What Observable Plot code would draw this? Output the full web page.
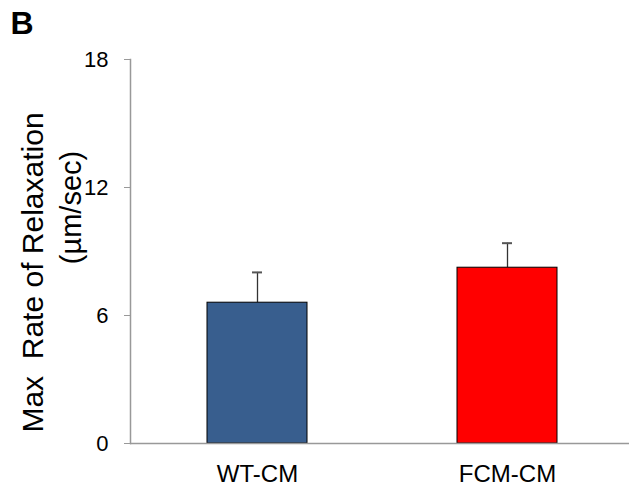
<!DOCTYPE html>
<html>
<head>
<meta charset="utf-8">
<script src="https://cdn.jsdelivr.net/npm/d3@7"></script>
<script src="https://cdn.jsdelivr.net/npm/@observablehq/plot@0.6"></script>
<style>
  html, body { margin: 0; padding: 0; background: #fff; }
  #chart { width: 629px; height: 490px; }
  #chart svg { font-family: "Liberation Sans", Arial, sans-serif; }
</style>
</head>
<body>
<div id="chart"></div>
<script>
// Max rate of relaxation per group (mean ± SEM)
const groups = ["WT-CM", "FCM-CM"];
const means = [6.6, 8.24];
const sems = [1.42, 1.15];
const barColors = ["#385E8E", "#FF0000"];
const yTicks = [0, 6, 12, 18];
const panelLetter = "B";
const yLabelLine1 = "Max  Rate of Relaxation";
const yLabelLine2 = "(\u00b5m/sec)";

const data = groups.map((g, i) => ({group: g, mean: means[i], sem: sems[i], hi: means[i] + sems[i]}));

const chart = Plot.plot({
  width: 629,
  height: 490,
  marginLeft: 130,
  marginRight: 0,
  marginTop: 59,
  marginBottom: 47,
  style: {fontFamily: "'Liberation Sans', Arial, sans-serif", color: "black", background: "white"},
  x: {domain: groups, range: [132, 632], paddingInner: 0.6, paddingOuter: 0.3},
  y: {domain: [0, 18]},
  color: {domain: groups, range: barColors},
  marks: [
    // error bars (upper half only, drawn behind bars)
    Plot.ruleX(data, {x: "group", y1: "mean", y2: "hi", stroke: "#333", strokeWidth: 1.3}),
    Plot.tickY(data, {x: "group", y: "hi", stroke: "#555", strokeWidth: 2, insetLeft: 45, insetRight: 45}),
    Plot.barY(data, {x: "group", y: "mean", fill: "group", stroke: "black", strokeWidth: 1}),
    // axes
    Plot.frame({anchor: "left", stroke: "#999", strokeWidth: 1.5}),
    Plot.ruleY([0], {stroke: "#999", strokeWidth: 1.5}),
    Plot.axisY({ticks: yTicks, tickSize: 6, tickPadding: 16, fontSize: 22, stroke: "#999", fill: "black", label: null}),
    Plot.axisX({tickSize: 0, tickPadding: 21, fontSize: 24, fill: "black", label: null}),
    // y-axis title, two rotated lines
    Plot.text([yLabelLine1], {frameAnchor: "left", textAnchor: "middle", rotate: -90, dx: -97, dy: 21, fontSize: 30, fill: "black"}),
    Plot.text([yLabelLine2], {frameAnchor: "left", textAnchor: "middle", rotate: -90, dx: -59, dy: -44, fontSize: 29, fill: "black"}),
    // panel letter
    Plot.text([panelLetter], {frameAnchor: "top-left", dx: -120, dy: -26, lineAnchor: "bottom", textAnchor: "start", fontSize: 32, fontWeight: "bold", fill: "black"})
  ]
});

document.getElementById("chart").append(chart);
</script>
</body>
</html>
